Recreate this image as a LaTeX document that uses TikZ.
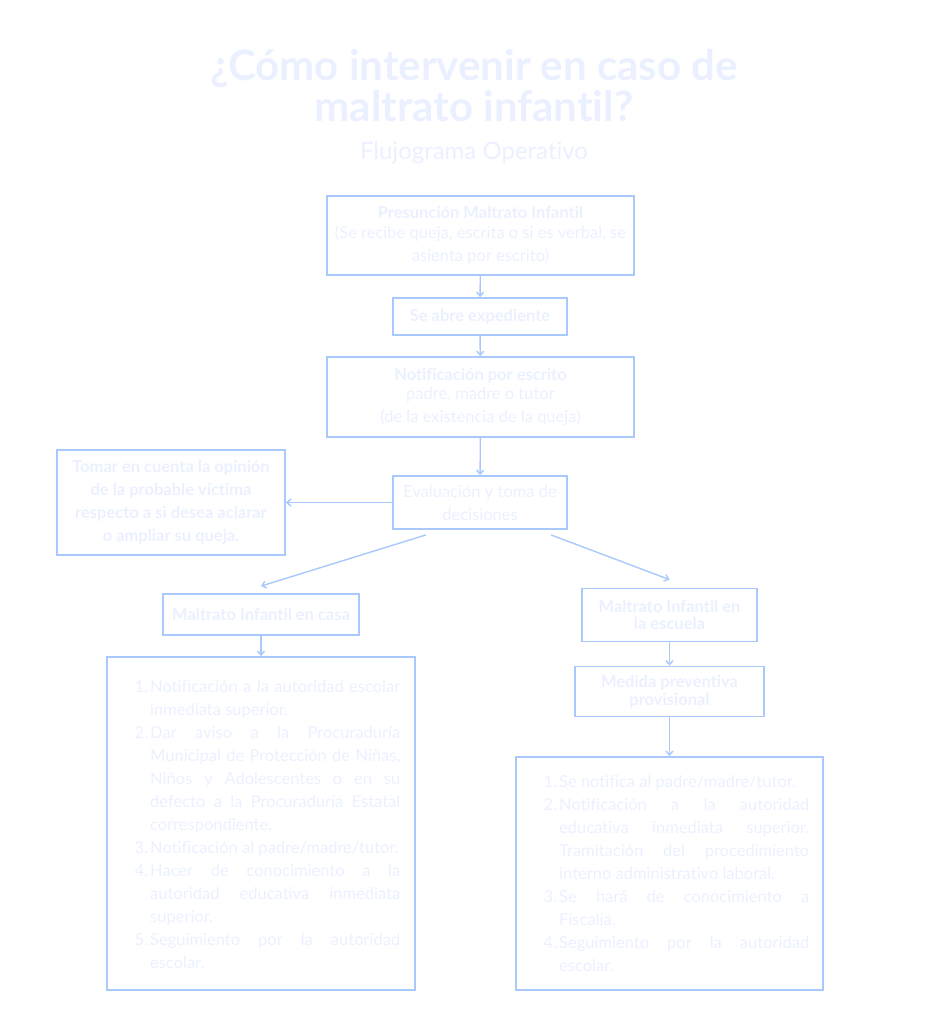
\documentclass[tikz,border=0pt]{standalone}
\usepackage{fontspec}
\setmainfont{Lato}[Ligatures=NoCommon]
\usepackage{enumitem}
\usetikzlibrary{positioning,arrows.meta}
\definecolor{flowline}{HTML}{A9C8FB}
\definecolor{flowtext}{HTML}{EAF0FF}
\tikzset{
    every node/.style={font=\fontsize{16.5}{23}\selectfont,text=flowtext},
    titulo/.style={font=\fontsize{42}{41}\selectfont\bfseries,align=center},
    subtitulo/.style={font=\fontsize{24}{26}\selectfont},
    paso/.style={draw=flowline,line width=1.8pt,align=center,inner sep=0pt},
    pasobold/.style={paso,font=\fontsize{16.5}{23}\selectfont\bfseries},
    pasotight/.style={paso,font=\fontsize{16.5}{17.5}\selectfont\bfseries},
    lista/.style={anchor=north west,text width=265pt,align=justify,inner sep=0pt},
    flecha/.style={draw=flowline,line width=1.4pt,-{Straight Barb[length=4pt,width=7pt]}}
}
\newcommand{\pasoslista}[1]{%
  \begin{enumerate}[label=\arabic*.,leftmargin=15pt,labelsep=2pt,itemsep=0pt,parsep=0pt,topsep=0pt]#1\end{enumerate}}

\begin{document}
\begin{tikzpicture}[x=1pt,y=-1pt]
\useasboundingbox (0,0) rectangle (944,1023);

\node[titulo] (titulo) at (474,86) {¿Cómo intervenir en caso de\\maltrato infantil?};
\node[subtitulo] (subtitulo) at (474,153) {Flujograma Operativo};

% tronco central
\node[paso,minimum width=307,minimum height=79] (presuncion) at (480.5,235.5)
    {{\bfseries Presunción Maltrato Infantil}\\[-3pt](Se recibe queja, escrita o si es verbal, se\\asienta por escrito)};
\node[pasobold,minimum width=174,minimum height=37] (expediente) at (480,316.5)
    {Se abre expediente};
\node[paso,minimum width=307,minimum height=80] (notificacion) at (480.5,397)
    {{\bfseries Notificación por escrito}\\[-4pt]padre, madre o tutor\\(de la existencia de la queja)};
\node[paso,minimum width=174,minimum height=53] (evaluacion) at (480,502.5)
    {Evaluación y toma de\\decisiones};
\node[pasobold,minimum width=228,minimum height=105] (opinion) at (171,502.5)
    {Tomar en cuenta la opinión\\de la probable víctima\\respecto a si desea aclarar\\o ampliar su queja.};

% rama en casa
\node[pasobold,minimum width=196,minimum height=41] (casa) at (261,614.5)
    {Maltrato Infantil en casa};
\node[paso,minimum width=308,minimum height=333] (pasoscasa) at (261,823.5) {};
\node[lista] (textocasa) at (135,669) {\pasoslista{%
    \item Notificación a la autoridad escolar\linebreak inmediata superior.
    \item Dar aviso a la Procuraduría\linebreak Municipal de Protección de Niñas,\linebreak Niños y Adolescentes o en su\linebreak defecto a la Procuraduría Estatal\linebreak correspondiente.
    \item Notificación al padre/madre/tutor.
    \item Hacer de conocimiento a la\linebreak autoridad educativa inmediata\linebreak superior.
    \item Seguimiento por la autoridad\linebreak escolar.}};

% rama en la escuela
\node[pasotight,minimum width=175,minimum height=53] (escuela) at (669.5,615)
    {Maltrato Infantil en\\la escuela};
\node[pasotight,minimum width=189,minimum height=50] (medida) at (669.5,691.5)
    {Medida preventiva\\provisional};
\node[paso,minimum width=307,minimum height=233] (pasosescuela) at (669.5,873.5) {};
\node[lista] (textoescuela) at (544,764) {\pasoslista{%
    \item Se notifica al padre/madre/tutor.
    \item Notificación a la autoridad\linebreak educativa inmediata superior.\linebreak Tramitación del procedimiento\linebreak interno administrativo laboral.
    \item Se hará de conocimiento a\linebreak Fiscalía.
    \item Seguimiento por la autoridad\linebreak escolar.}};

% conectores
\draw[flecha] (presuncion) -- (expediente);
\draw[flecha] (expediente) -- (notificacion);
\draw[flecha] (notificacion) -- (evaluacion);
\draw[flecha] (evaluacion) -- (opinion);
\draw[flecha] ([xshift=-54,yshift=-5]evaluacion.south) -- ([yshift=7]casa.north);
\draw[flecha] ([xshift=71,yshift=-5]evaluacion.south) -- ([yshift=8]escuela.north);
\draw[flecha] (casa) -- (pasoscasa);
\draw[flecha] (escuela) -- (medida);
\draw[flecha] (medida) -- (pasosescuela);
\end{tikzpicture}
\end{document}
